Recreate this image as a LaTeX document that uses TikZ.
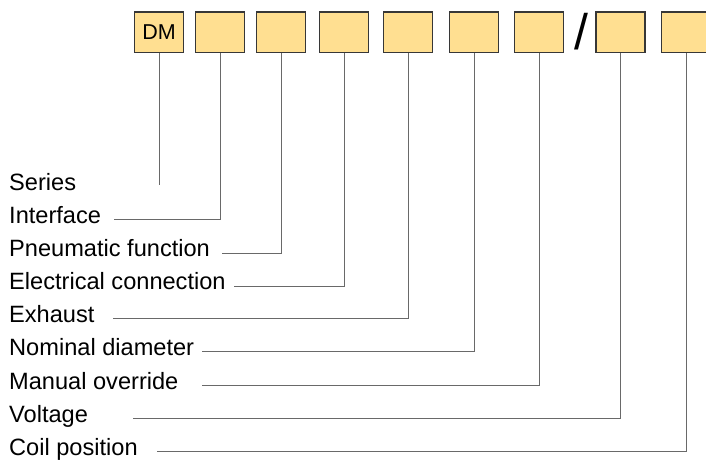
\documentclass[tikz,border=0pt]{standalone}
\usepackage{fontspec}
\setmainfont{Liberation Sans}
\usetikzlibrary{positioning}
\definecolor{boxfill}{RGB}{255,223,145}
\definecolor{boxline}{RGB}{55,55,55}
\definecolor{leadline}{RGB}{105,105,105}
\tikzset{
	field/.style={draw=boxline, fill=boxfill, line width=1.2pt, minimum width=49pt, minimum height=40.5pt, inner sep=0pt, font=\fontsize{21.5}{24}\selectfont},
	lbl/.style={anchor=base west, inner sep=0pt, font=\fontsize{23.6}{28}\selectfont},
	lead/.style={draw=leadline, line width=1pt}
}

\begin{document}
\begin{tikzpicture}[x=1pt, y=-1pt]
			\clip (0,0) rectangle (706,459);
			\node[field] (dm) at (159,32.3) {DM};
			\node[field] (intf) at (220,32.3) {};
			\node[field] (pneu) at (281,32.3) {};
			\node[field] (elec) at (344,32.3) {};
			\node[field] (exh) at (408,32.3) {};
			\node[field] (nom) at (474,32.3) {};
			\node[field] (man) at (539,32.3) {};
			\node[anchor=base, inner sep=0pt, font=\fontsize{50}{55}\selectfont] (slash) at (581.5,49.5) {/};
			\node[field] (volt) at (620.5,32.3) {};
			\node[field] (coil) at (686,32.3) {};

			\node[lbl] (series-txt) at (9,190) {Series};
			\node[lbl] (intf-txt) at (9,223.2) {Interface};
			\node[lbl] (pneu-txt) at (9,256.4) {Pneumatic function};
			\node[lbl] (elec-txt) at (9,289.6) {Electrical connection};
			\node[lbl] (exh-txt) at (9,322.3) {Exhaust};
			\node[lbl] (nom-txt) at (9,355.8) {Nominal diameter};
			\node[lbl] (man-txt) at (9,389) {Manual override};
			\node[lbl] (volt-txt) at (9,422.2) {Voltage};
			\node[lbl] (coil-txt) at (9,455.4) {Coil position};

			\coordinate (series-end) at (159,185);
			\coordinate (intf-end) at (114,219.3);
			\coordinate (pneu-end) at (221.7,253.3);
			\coordinate (elec-end) at (234,286);
			\coordinate (exh-end) at (112.7,318);
			\coordinate (nom-end) at (201.7,351.7);
			\coordinate (man-end) at (201.7,385.3);
			\coordinate (volt-end) at (133.3,418.3);
			\coordinate (coil-end) at (156.7,451.3);

			\draw[lead] (dm.south) -- (series-end);
			\draw[lead] (intf.south) |- (intf-end);
			\draw[lead] (pneu.south) |- (pneu-end);
			\draw[lead] (elec.south) |- (elec-end);
			\draw[lead] (exh.south) |- (exh-end);
			\draw[lead] (nom.south) |- (nom-end);
			\draw[lead] (man.south) |- (man-end);
			\draw[lead] (volt.south) |- (volt-end);
			\draw[lead] (coil.south) |- (coil-end);
		\end{tikzpicture}
\end{document}
